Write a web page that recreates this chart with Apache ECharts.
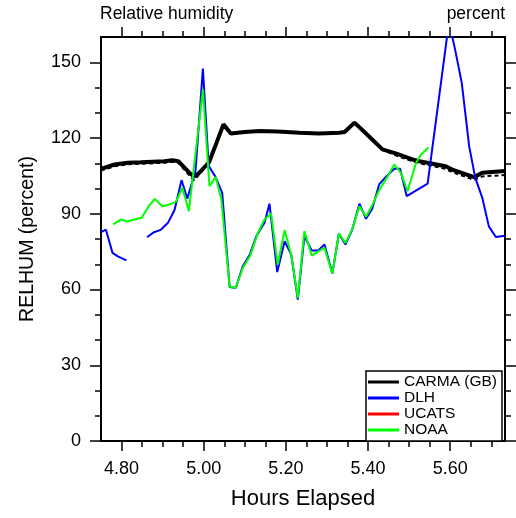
<!DOCTYPE html>
<html>
<head>
<meta charset="utf-8">
<script src="https://cdn.jsdelivr.net/npm/echarts@6/dist/echarts.min.js"></script>
<style>
html,body{margin:0;padding:0;background:#fff;}
#chart{width:516px;height:518px;}
</style>
</head>
<body>
<div id="chart"></div>
<script>
// ---------- data ----------
const seriesNames = ['CARMA (GB)', 'DLH', 'UCATS', 'NOAA'];

const carmaHours  = [4.75, 4.783, 4.815, 4.847, 4.904, 4.924, 4.938, 4.969, 4.977, 4.989, 5.013, 5.027, 5.048, 5.066, 5.10, 5.136, 5.18, 5.233, 5.28, 5.33, 5.343, 5.367, 5.395, 5.435, 5.469, 5.508, 5.525, 5.589, 5.605, 5.658, 5.678, 5.733];
const carmaValues = [107.8, 109.5, 110.2, 110.4, 110.8, 111.2, 110.8, 105.6, 104.9, 106.2, 110.4, 116.3, 125.4, 121.8, 122.4, 122.8, 122.6, 122.1, 121.8, 122.1, 122.4, 126.1, 121.8, 115.5, 113.8, 111.5, 110.8, 108.8, 107.5, 104.5, 106.2, 106.9];

const carmaDashHours  = [4.75, 4.783, 4.815, 4.847, 4.904, 4.924, 4.938, 4.969, 4.977, 4.989, 5.013, 5.027, 5.048, 5.066, 5.10, 5.136, 5.18, 5.233, 5.28, 5.33, 5.343, 5.367, 5.395, 5.435, 5.469, 5.508, 5.525, 5.589, 5.605, 5.658, 5.678, 5.733];
const carmaDashValues = [107.1, 108.8, 109.6, 109.8, 110.2, 110.6, 110.2, 104.5, 103.3, 105.5, 110.4, 116.3, 125.4, 121.8, 122.4, 122.8, 122.6, 122.1, 121.8, 122.1, 122.4, 126.1, 121.8, 115.3, 113.0, 110.8, 110.0, 107.8, 106.5, 103.4, 104.8, 105.3];

const dlhHours  = [4.75, 4.762, 4.778, 4.791, 4.812, 4.835, 4.862, 4.879, 4.895, 4.913, 4.929, 4.946, 4.960, 4.980, 4.998, 5.012, 5.029, 5.045, 5.063, 5.078, 5.095, 5.112, 5.128, 5.148, 5.160, 5.179, 5.197, 5.213, 5.229, 5.245, 5.263, 5.278, 5.294, 5.313, 5.329, 5.345, 5.361, 5.379, 5.395, 5.410, 5.427, 5.445, 5.464, 5.478, 5.494, 5.545, 5.597, 5.612, 5.628, 5.646, 5.661, 5.678, 5.694, 5.711, 5.733];
const dlhValues = [82.7, 83.7, 74.5, 73.1, 71.5, null, 80.7, 82.7, 83.6, 86.4, 91.5, 103.3, 96.0, 107.0, 147.5, 109.0, 104.5, 98.3, 61.0, 60.6, 69.2, 73.8, 81.1, 86.4, 94.0, 66.9, 79.1, 73.8, 56.0, 81.1, 75.4, 75.4, 77.8, 66.3, 82.1, 77.8, 83.5, 94.0, 88.0, 91.9, 101.6, 104.9, 107.8, 107.8, 97.0, 101.9, 166.0, 154.9, 141.9, 116.8, 104.2, 96.3, 85.0, 80.8, 81.3];

const ucatsHours  = [];
const ucatsValues = [];

const noaaHours  = [4.780, 4.798, 4.814, 4.832, 4.849, 4.865, 4.881, 4.899, 4.916, 4.932, 4.948, 4.964, 4.998, 5.014, 5.029, 5.043, 5.063, 5.078, 5.095, 5.113, 5.132, 5.148, 5.164, 5.180, 5.197, 5.213, 5.229, 5.245, 5.263, 5.278, 5.294, 5.313, 5.329, 5.345, 5.361, 5.379, 5.395, 5.411, 5.427, 5.448, 5.464, 5.480, 5.496, 5.517, 5.529, 5.547];
const noaaValues = [85.8, 87.7, 86.9, 87.7, 88.4, 92.7, 95.9, 93.0, 93.7, 94.6, 100.3, 91.0, 139.3, 100.9, 104.6, 95.6, 61.2, 60.6, 68.5, 73.4, 82.4, 87.7, 90.1, 69.8, 83.5, 73.8, 56.6, 83.1, 73.4, 75.0, 76.5, 66.3, 82.1, 78.4, 83.7, 93.0, 88.8, 93.7, 99.3, 104.9, 109.5, 106.2, 98.9, 110.2, 113.5, 116.2];

const xMajorTicks = [4.8, 5.0, 5.2, 5.4, 5.6];
const xMinorTicks = [4.85, 4.9, 4.95, 5.05, 5.1, 5.15, 5.25, 5.3, 5.35, 5.45, 5.5, 5.55, 5.65, 5.7];
const yMajorTicks = [0, 30, 60, 90, 120, 150];
const yMinorTicks = [10, 20, 40, 50, 70, 80, 100, 110, 130, 140];

const X_MIN = 4.75, X_MAX = 5.7333, Y_MIN = 0, Y_MAX = 160;

// ---------- chart ----------
const FONT = "'Liberation Sans', Arial, Helvetica, sans-serif";
const zip = (xs, ys) => xs.map((x, i) => [x, ys[i] === null ? '-' : ys[i]]);

function xAx(pos, ticks, len, withLabels) {
  const a = {
    type: 'value', position: pos, min: X_MIN, max: X_MAX,
    splitLine: { show: false },
    axisLine: { show: true, onZero: false, lineStyle: { color: '#000', width: 2 } },
    axisTick: { show: true, inside: false, length: len, customValues: ticks, lineStyle: { color: '#000', width: 1.5 } },
    axisLabel: { show: false }
  };
  if (withLabels) {
    a.axisLabel = { show: true, customValues: xMajorTicks, margin: 19, color: '#000', fontSize: 18, fontFamily: FONT,
      formatter: v => Number(v).toFixed(2) };
    a.name = 'Hours Elapsed';
    a.nameLocation = 'middle';
    a.nameGap = 47;
    a.nameTextStyle = { fontSize: 22, color: '#000', fontFamily: FONT };
  }
  return a;
}
function yAx(pos, ticks, len, withLabels) {
  const a = {
    type: 'value', position: pos, min: Y_MIN, max: Y_MAX,
    splitLine: { show: false },
    axisLine: { show: true, onZero: false, lineStyle: { color: '#000', width: 2 } },
    axisTick: { show: true, inside: false, length: len, customValues: ticks, lineStyle: { color: '#000', width: 1.5 } },
    axisLabel: { show: false }
  };
  if (withLabels) {
    a.axisLabel = { show: true, customValues: yMajorTicks, margin: 20, color: '#000', fontSize: 18, fontFamily: FONT };
    a.name = 'RELHUM (percent)';
    a.nameLocation = 'middle';
    a.nameGap = 63;
    a.nameTextStyle = { fontSize: 19.5, color: '#000', fontFamily: FONT };
  }
  return a;
}

const chart = echarts.init(document.getElementById('chart'), null, { renderer: 'canvas' });
chart.setOption({
  animation: false,
  backgroundColor: '#fff',
  title: [
    { text: 'Relative humidity', left: 100, top: 5, padding: 0, textStyle: { fontSize: 17.5, fontWeight: 'normal', color: '#000', fontFamily: FONT } },
    { text: 'percent', right: 11, top: 5, padding: 0, textStyle: { fontSize: 17.5, fontWeight: 'normal', color: '#000', fontFamily: FONT } }
  ],
  grid: { left: 101, right: 11, top: 37, bottom: 77, containLabel: false },
  xAxis: [
    xAx('bottom', xMinorTicks, 6, true),
    xAx('bottom', xMajorTicks, 10, false),
    xAx('top', xMinorTicks, 6, false),
    xAx('top', xMajorTicks, 10, false)
  ],
  yAxis: [
    yAx('left', yMinorTicks, 6, true),
    yAx('left', yMajorTicks, 11, false),
    yAx('right', yMinorTicks, 6, false),
    yAx('right', yMajorTicks, 11, false)
  ],
  legend: {
    orient: 'vertical', right: 14, top: 371,
    itemWidth: 31, itemHeight: 3, itemGap: 0,
    padding: [3, 5, 3, 2],
    borderColor: '#000', borderWidth: 1.5, backgroundColor: '#fff',
    icon: 'rect',
    textStyle: { fontSize: 15.5, lineHeight: 15, color: '#000', fontFamily: FONT },
    data: seriesNames
  },
  series: [
    { name: 'CARMA dashed', type: 'line', data: zip(carmaDashHours, carmaDashValues), showSymbol: false, symbol: 'none',
      itemStyle: { color: '#000' }, lineStyle: { color: '#000', width: 2, type: [4, 3] }, z: 2 },
    { name: seriesNames[0], type: 'line', data: zip(carmaHours, carmaValues), showSymbol: false, symbol: 'none',
      itemStyle: { color: '#000' }, lineStyle: { color: '#000', width: 4 }, z: 3 },
    { name: seriesNames[1], type: 'line', data: zip(dlhHours, dlhValues), showSymbol: false, symbol: 'none', connectNulls: false, clip: true,
      itemStyle: { color: '#0000ff' }, lineStyle: { color: '#0000ff', width: 2 }, z: 4 },
    { name: seriesNames[2], type: 'line', data: zip(ucatsHours, ucatsValues), showSymbol: false, symbol: 'none',
      itemStyle: { color: '#ff0000' }, lineStyle: { color: '#ff0000', width: 2 }, z: 5 },
    { name: seriesNames[3], type: 'line', data: zip(noaaHours, noaaValues), showSymbol: false, symbol: 'none',
      itemStyle: { color: '#00ff00' }, lineStyle: { color: '#00ff00', width: 2 }, z: 6 }
  ]
});
</script>
</body>
</html>
